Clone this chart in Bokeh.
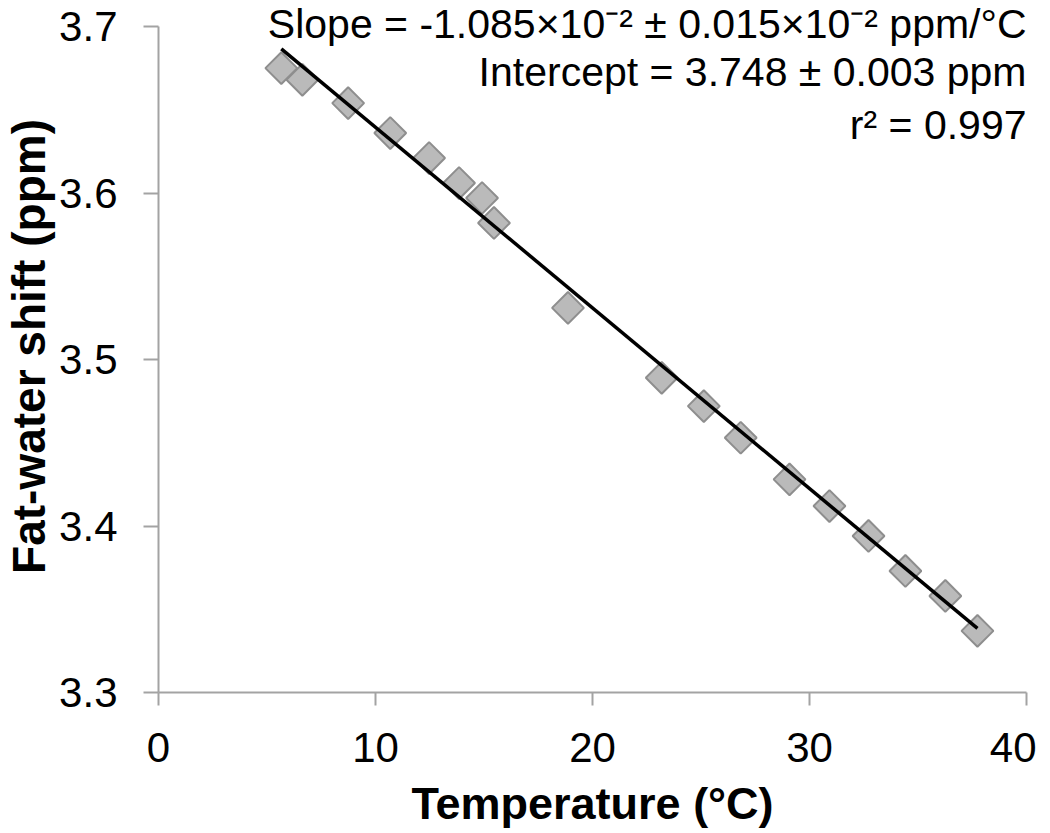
import math
from bokeh.plotting import figure
from bokeh.models import Range1d, FixedTicker, Label, ColumnDataSource
from bokeh.embed import file_html
from bokeh.resources import INLINE

# ---- data ----
temperature = [5.66, 6.63, 8.74, 10.68, 12.47, 13.85, 14.91, 15.46, 18.87,
               23.19, 25.13, 26.83, 29.08, 30.92, 32.72, 34.42, 36.26, 37.74]
fat_water_shift = [3.675, 3.668, 3.654, 3.636, 3.621, 3.606, 3.597, 3.582, 3.531,
                   3.489, 3.472, 3.453, 3.428, 3.412, 3.394, 3.373, 3.358, 3.337]
fit_slope = -1.085e-2
fit_intercept = 3.748
x_ticks = [0, 10, 20, 30, 40]
y_ticks = [3.3, 3.4, 3.5, 3.6, 3.7]
annotation_lines = [
    "Slope = -1.085×10⁻² ± 0.015×10⁻² ppm/°C",
    "Intercept = 3.748 ± 0.003 ppm",
    "r² = 0.997",
]
x_label = "Temperature (°C)"
y_label = "Fat-water shift (ppm)"

FONT = "Liberation Sans"
AXIS_GRAY = "#a3a3a3"

# frame reaches the canvas top so the first annotation line is not clipped;
# the y axis itself is bounded to 3.3 – 3.7
FRAME_H = 692
Y_TOP = 3.3 + 0.4 * FRAME_H / 666

p = figure(
    frame_width=868, frame_height=FRAME_H,
    min_border_left=157, min_border_top=0, min_border_right=10, min_border_bottom=139,
    x_range=Range1d(0, 40), y_range=Range1d(3.3, Y_TOP),
    output_backend="svg", toolbar_location=None,
)
p.outline_line_color = None
p.grid.visible = False
p.background_fill_color = "white"
p.border_fill_color = "white"

# fit line across the measured temperature span
x0, x1 = min(temperature), max(temperature)
fit_src = ColumnDataSource(dict(x=[x0, x1], y=[fit_intercept + fit_slope * x0, fit_intercept + fit_slope * x1]))

src = ColumnDataSource(dict(x=temperature, y=fat_water_shift))
p.scatter("x", "y", source=src, marker="square", size=22.5, angle=math.pi / 4,
          fill_color="#bababa", line_color="#8e8e8e", line_width=2)
p.line("x", "y", source=fit_src, line_color="black", line_width=3.5)

for ax in (p.xaxis[0], p.yaxis[0]):
    ax.axis_line_color = AXIS_GRAY
    ax.axis_line_width = 2
    ax.major_tick_line_color = AXIS_GRAY
    ax.major_tick_line_width = 2
    ax.major_tick_in = 0
    ax.minor_tick_line_color = None
    ax.major_label_text_font = FONT
    ax.major_label_text_font_size = "42px"
    ax.major_label_text_color = "black"
    ax.axis_label_text_font = FONT
    ax.axis_label_text_font_style = "bold"
    ax.axis_label_text_color = "black"

p.yaxis.bounds = (3.3, 3.7)
p.xaxis.ticker = FixedTicker(ticks=x_ticks)
p.yaxis.ticker = FixedTicker(ticks=y_ticks)
p.xaxis.major_tick_out = 13
p.yaxis.major_tick_out = 15
p.xaxis.major_label_standoff = 27
p.yaxis.major_label_standoff = 26
p.xaxis.axis_label = x_label
p.yaxis.axis_label = y_label
p.xaxis.axis_label_text_font_size = "45px"
p.yaxis.axis_label_text_font_size = "46px"
p.xaxis.axis_label_standoff = 13
p.yaxis.axis_label_standoff = 1

baseline_y = [3.7018, 3.6724, 3.6411]
for txt, yy in zip(annotation_lines, baseline_y):
    p.add_layout(Label(x=40, y=yy, text=txt, text_align="right", text_baseline="alphabetic",
                       text_font=FONT, text_font_size="41px", text_color="black"))

open("out.html", "w").write(file_html(p, INLINE))
